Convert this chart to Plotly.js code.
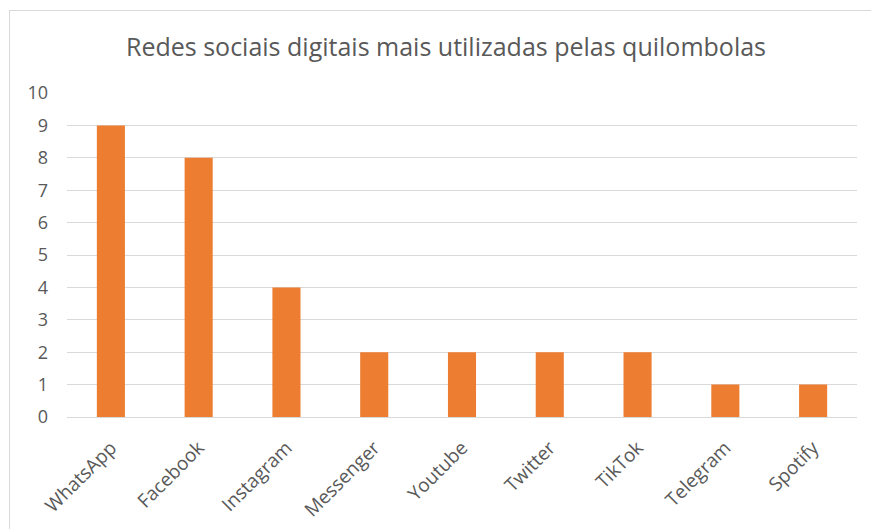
<!DOCTYPE html>
<html><head><meta charset="utf-8">
<script src="https://cdn.plot.ly/plotly-3.0.1.min.js"></script>
<style>
html,body{margin:0;padding:0;background:#fff;}
#wrap{position:relative;width:871px;height:529px;overflow:hidden;}
#frame{position:absolute;left:9px;top:10px;width:900px;height:600px;border:1px solid #d9d9d9;box-sizing:border-box;}
#chart{position:absolute;left:0;top:0;width:871px;height:529px;}
</style></head>
<body><div id="wrap"><div id="frame"></div><div id="chart"></div></div>
<script>
const categories = ["WhatsApp","Facebook","Instagram","Messenger","Youtube","Twitter","TikTok","Telegram","Spotify"];
const values = [9,8,4,2,2,2,2,1,1];
const yTicks = [0,1,2,3,4,5,6,7,8,9,10];
const titleText = "Redes sociais digitais mais utilizadas pelas quilombolas";

const fontFam = "Open Sans, sans-serif";
Plotly.newPlot("chart", [{
  type: "bar", x: categories, y: values,
  marker: {color: "#ED7D31"}, hoverinfo: "x+y"
}], {
  width: 871, height: 529,
  paper_bgcolor: "rgba(0,0,0,0)", plot_bgcolor: "rgba(0,0,0,0)",
  margin: {l: 67, r: 14, t: 93, b: 112},
  bargap: 0.68,
  showlegend: false,
  title: {text: titleText, font: {family: fontFam, size: 25, color: "#595959"},
          x: 446/871, xref: "container", xanchor: "center", y: 1-47/529, yref: "container", yanchor: "middle"},
  xaxis: {tickangle: -45, tickfont: {family: fontFam, size: 19, color: "#595959"},
          showgrid: false, showline: false, ticks: "", ticklabelstandoff: 15, fixedrange: true},
  yaxis: {range: [0, 10], tickvals: yTicks, tickfont: {family: fontFam, size: 18, color: "#595959"},
          gridcolor: "#d9d9d9", gridwidth: 1, zeroline: true, zerolinecolor: "#d9d9d9", zerolinewidth: 1,
          showline: false, ticks: "", ticklabelstandoff: 18, fixedrange: true}
}, {displayModeBar: false, staticPlot: true});
</script></body></html>
